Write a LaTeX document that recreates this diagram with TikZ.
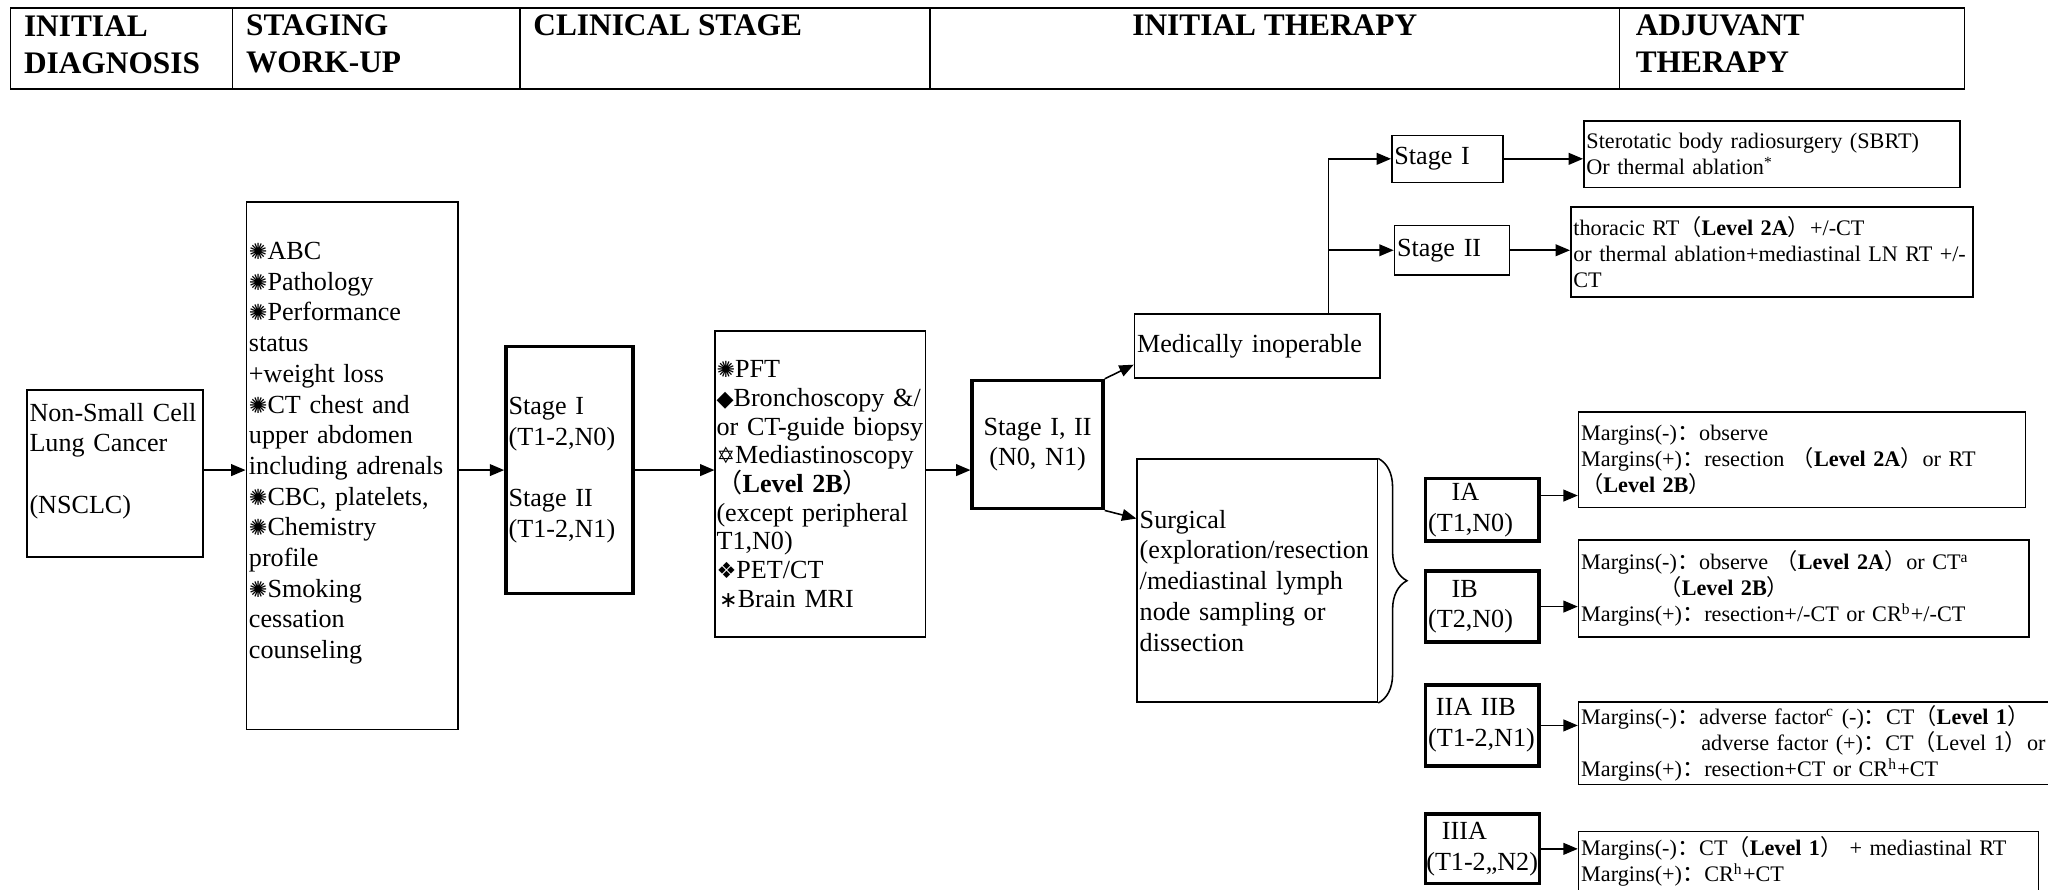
\documentclass[tikz,border=0pt]{standalone}
\usepackage{fontspec}
\setmainfont{Liberation Serif}
\newfontfamily\cjk{Noto Sans CJK SC}
\newfontfamily\dingfont{DejaVu Sans}
\usepackage{tikz}
\usetikzlibrary{calc,arrows.meta,decorations.pathreplacing}
\newcommand\cnlp{{\cjk （}}
\newcommand\cnrp{{\cjk ）}}
\newcommand\cncol{{\cjk ：}}
\newcommand\wbul[1]{{\dingfont\fontsize{8.5}{8.5}\selectfont #1}}
\tikzset{
	box/.style={draw, line width=0.6pt, inner xsep=1pt, inner ysep=0pt, align=left, anchor=north west, font=\fontsize{10}{11.75}\selectfont},
	thickbox/.style={box, line width=1.4pt},
	smallbox/.style={box, font=\fontsize{8.5}{10}\selectfont},
	head/.style={inner sep=0pt, align=left, font=\bfseries\fontsize{12}{14}\selectfont},
	arr/.style={line width=0.6pt, -{Triangle[length=5.5pt,width=4.5pt]}},
}

\begin{document}
\begin{tikzpicture}[x=0.5pt, y=-0.5pt]
			%%%%% START %%%%%
			\useasboundingbox (0,0) rectangle (1568,681);
			\fill[white] (0,0) rectangle (1568,681);
			
			% header row
			\draw[line width=0.6pt] (8,6) rectangle (1504,68);
			\foreach \x in {178,398,712,1240}
				\draw[line width=0.6pt] (\x,6) -- (\x,68);
			\node[head, anchor=north west] (hdiag) at (18,12) {INITIAL\\DIAGNOSIS};
			\node[head, anchor=north west] (hwork) at (188,11) {STAGING\\WORK-UP};
			\node[head, anchor=north west] (hclin) at (408,11) {CLINICAL STAGE};
			\node[head, anchor=north] (hinit) at (976,11) {INITIAL THERAPY};
			\node[head, anchor=north west] (hadj) at (1252,11) {ADJUVANT\\THERAPY};
			
			% diagnosis and work-up
			\node[box, text width=65.5pt, minimum height=64pt] (nsclc) at (20,298) {Non-Small Cell\\Lung Cancer\\~\\(NSCLC)\\~};
			\node[box, text width=79pt, minimum height=202pt] (workup) at (188,154) {\wbul{✺}ABC\\\wbul{✺}Pathology\\\wbul{✺}Performance\\status\\+weight loss\\\wbul{✺}CT chest and\\upper abdomen\\including adrenals\\\wbul{✺}CBC, platelets,\\\wbul{✺}Chemistry\\profile\\\wbul{✺}Smoking\\cessation\\counseling\\~};
			\node[thickbox, text width=46.5pt, minimum height=94.5pt] (stage) at (386,264) {Stage I\\(T1-2,N0)\\~\\Stage II\\(T1-2,N1)};
			\node[box, font=\fontsize{10}{11}\selectfont, inner xsep=0.5pt, text width=79.5pt, minimum height=117pt] (tests) at (547,253) {\wbul{✺}PFT\\\wbul{◆}\mbox{Bronchoscopy \&/}\\\mbox{or CT-guide biopsy}\\\wbul{✡}Mediastinoscopy\\\cnlp\textbf{Level 2B}\cnrp\\\mbox{(except peripheral}\\T1,N0)\\\wbul{❖}PET/CT\\\hspace*{1pt}\wbul{∗}Brain MRI};
			\node[thickbox, align=center, text width=48pt, minimum height=49pt] (stage12) at (743,290) {Stage I, II\\(N0, N1)\\[4pt]};
			
			\draw[arr] (nsclc.east |- stage.east) -- (workup.west |- stage.east);
			\draw[arr] (workup.east |- stage.east) -- (stage.east -| stage.west);
			\draw[arr] (stage.east) -- (stage.east -| tests.west);
			\draw[arr] (tests.east |- stage.east) -- (stage12.west |- stage.east);
			
			% initial therapy
			\node[box, text width=92pt, minimum height=24.5pt] (med) at (868,240) {Medically inoperable};
			\node[box, text width=90pt, minimum height=93pt] (surg) at (870,351) {Surgical\\\mbox{(exploration/resection}\\/mediastinal lymph\\node sampling or\\dissection};
			\draw[line width=0.6pt, decorate, decoration={brace, amplitude=11pt}] (surg.north east) -- (surg.south east);
			
			\draw[arr] (stage12.north east) -- ([yshift=5.5pt]med.south west);
			\draw[arr] (stage12.south east) -- ([yshift=-23pt]surg.north west);
			
			\node[box, text width=40.5pt, minimum height=18pt] (stI) at (1065,103) {Stage I};
			\node[box, text width=42pt, minimum height=19pt] (stII) at (1067,172) {Stage II};
			\coordinate (fork) at ($(med.north west)+(149,0)$);
			\draw[arr] (fork) |- (stI.west);
			\draw[arr] (fork |- stII.west) -- (stII.west);
			
			\node[thickbox, text width=41.5pt, minimum height=24pt] (ia) at (1090,365) {\hspace*{9pt}IA\\(T1,N0)};
			\node[thickbox, text width=41.5pt, minimum height=27pt] (ib) at (1090,436) {\hspace*{9pt}IB\\(T2,N0)};
			\node[thickbox, text width=41.5pt, minimum height=31pt] (iia) at (1090,523) {\hspace*{3pt}IIA IIB\\\mbox{(T1-2,N1)}};
			\node[thickbox, inner xsep=0.3pt, text width=43pt, minimum height=26.5pt] (iiia) at (1090,622) {\hspace*{6pt}IIIA\\\mbox{(T1-2,,N2)}};
			
			% adjuvant therapy
			\node[smallbox, text width=142pt, minimum height=25.5pt] (sbrt) at (1212,92) {Sterotatic body radiosurgery (SBRT)\\Or thermal ablation\textsuperscript{*}\\[3pt]};
			\node[smallbox, text width=152pt, minimum height=34.5pt] (thor) at (1202,158) {thoracic RT\cnlp\textbf{Level 2A}\cnrp +/-CT\\or thermal ablation+mediastinal LN RT +/-\\CT};
			\node[smallbox, text width=169pt, minimum height=36.5pt] (mia) at (1208,315) {Margins(-)\cncol observe\\Margins(+)\cncol resection \cnlp\textbf{Level 2A}\cnrp or RT\\\cnlp\textbf{Level 2B}\cnrp};
			\node[smallbox, text width=170.5pt, minimum height=37pt] (mib) at (1208,413) {Margins(-)\cncol observe \cnlp\textbf{Level 2A}\cnrp or CT\textsuperscript{a}\\\hspace*{30pt}\cnlp\textbf{Level 2B}\cnrp\\Margins(+)\cncol resection+/-CT or CR\textsuperscript{b}+/-CT\\[3pt]};
			\node[smallbox, text width=188pt, minimum height=31.5pt] (miia) at (1208,537) {Margins(-)\cncol adverse factor\textsuperscript{c} (-)\cncol CT\cnlp\textbf{Level 1}\cnrp\\\hspace*{46pt}adverse factor (+)\cncol CT\cnlp Level 1\cnrp or\\Margins(+)\cncol resection+CT or CR\textsuperscript{h}+CT};
			\node[smallbox, text width=174pt, minimum height=31pt] (miiia) at (1208,636) {Margins(-)\cncol CT\cnlp\textbf{Level 1}\cnrp{} + mediastinal RT\\Margins(+)\cncol CR\textsuperscript{h}+CT\\~};
			
			\draw[arr] (stI.east) -- (stI.east -| sbrt.west);
			\draw[arr] (stII.east) -- (stII.east -| thor.west);
			\draw[arr] ([yshift=5.5pt]ia.east) -- ([yshift=5.5pt]ia.east -| mia.west);
			\draw[arr] (ib.east) -- (ib.east -| mib.west);
			\draw[arr] (iia.east) -- (iia.east -| miia.west);
			\draw[arr] (iiia.east) -- (iiia.east -| miiia.west);
			%%%%% END %%%%%
\end{tikzpicture}
\end{document}
